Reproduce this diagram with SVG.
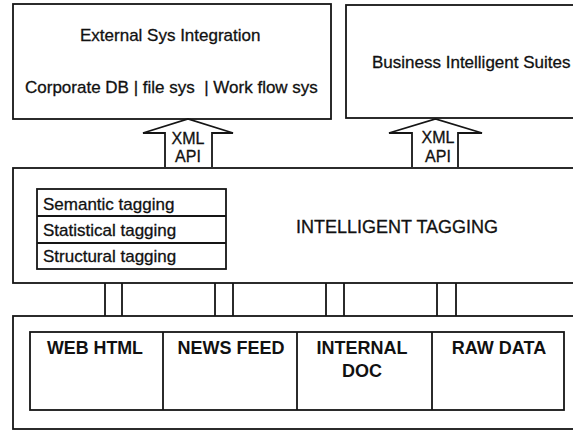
<svg xmlns="http://www.w3.org/2000/svg" width="573" height="433" viewBox="0 0 573 433">
<style>
.box{fill:#fff;stroke:#151515;stroke-width:1.8}
.ln{fill:none;stroke:#151515;stroke-width:1.8}
.t{font-family:"Liberation Sans",Arial,sans-serif;font-size:17px;fill:#111;stroke:#111;stroke-width:0.3}
.b{font-family:"Liberation Sans",Arial,sans-serif;font-size:18px;font-weight:bold;fill:#111;text-anchor:middle}
.x{font-family:"Liberation Sans",Arial,sans-serif;font-size:16px;fill:#111;stroke:#111;stroke-width:0.3;text-anchor:middle}
</style>
<rect width="573" height="433" fill="#fff"/>
<g id="connectors">
<path class="ln" d="M105,283V316M122,283V316M215,283V316M233,283V316M326,283V316M344,283V316M437,283V316M456,283V316"/>
</g>
<g id="external-sys">
<rect class="box" x="13" y="4" width="318" height="115"/>
<text class="t" x="80" y="41">External Sys Integration</text>
<text class="t" x="25" y="93">Corporate DB | file sys&#160; | Work flow sys</text>
</g>
<g id="business-intelligent">
<rect class="box" x="346" y="5" width="240" height="113"/>
<text class="t" x="372" y="68">Business Intelligent Suites</text>
</g>
<g id="intelligent-tagging">
<rect class="box" x="13" y="168" width="580" height="115"/>
<text class="t" x="296" y="233" style="font-size:18px">INTELLIGENT TAGGING</text>
<g id="tagging-table">
<rect class="box" x="37" y="189" width="189" height="80"/>
<path class="ln" d="M37,216H226M37,243H226"/>
<text class="t" x="43" y="210">Semantic tagging</text>
<text class="t" x="43" y="236">Statistical tagging</text>
<text class="t" x="43" y="262">Structural tagging</text>
</g>
</g>
<g id="arrow-xml-1">
<path class="box" d="M165,167V133H143L188,119L233,133H212V167"/>
<text class="x" x="188" y="144">XML</text>
<text class="x" x="188" y="162">API</text>
</g>
<g id="arrow-xml-2">
<path class="box" d="M412,167V133H389L435.5,119L482,133H458V167"/>
<text class="x" x="438" y="143">XML</text>
<text class="x" x="438" y="162">API</text>
</g>
<g id="sources">
<rect class="box" x="13" y="316" width="580" height="113"/>
<rect class="box" x="30" y="332" width="534" height="78"/>
<path class="ln" d="M163,332V410M297,332V410M432,332V410"/>
<g id="web-html"><text class="b" x="95" y="354" textLength="96" lengthAdjust="spacingAndGlyphs">WEB HTML</text></g>
<g id="news-feed"><text class="b" x="231" y="354">NEWS FEED</text></g>
<g id="internal-doc"><text class="b" x="362" y="354">INTERNAL</text><text class="b" x="362" y="377">DOC</text></g>
<g id="raw-data"><text class="b" x="499" y="354">RAW DATA</text></g>
</g>
</svg>
